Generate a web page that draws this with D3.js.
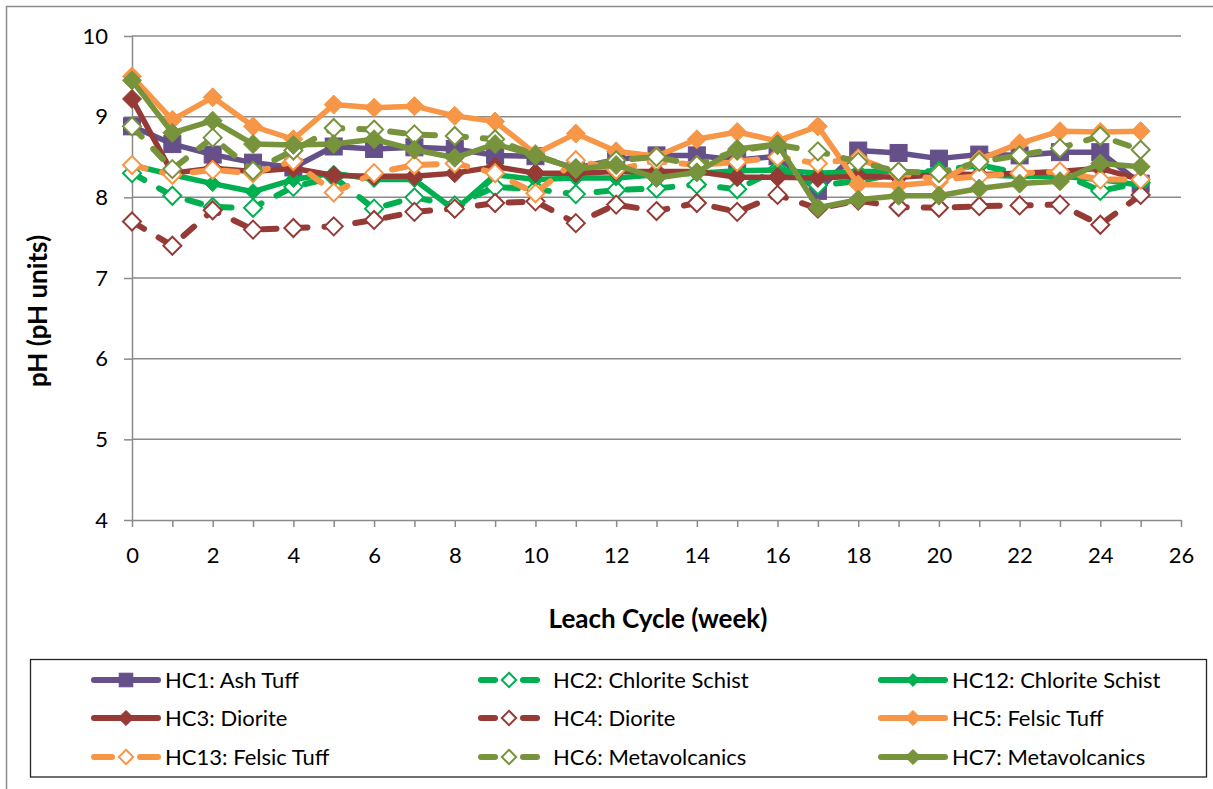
<!DOCTYPE html>
<html><head><meta charset="utf-8">
<script src="https://cdn.jsdelivr.net/npm/d3@7"></script>
<style>
body{margin:0;background:#fff}
svg{display:block;font-family:Lato,"Open Sans",sans-serif}
</style>
</head><body>
<svg id="c" width="1213" height="789"></svg>
<script>
// ---------- DATA ----------
const weeks = [0,1,2,3,4,5,6,7,8,9,10,11,12,13,14,15,16,17,18,19,20,21,22,23,24,25];
const hc1  = [8.88,8.66,8.53,8.43,8.37,8.63,8.60,8.62,8.60,8.52,8.51,8.36,8.47,8.52,8.52,8.46,8.51,8.08,8.58,8.55,8.48,8.53,8.52,8.56,8.56,8.17];
const hc2  = [8.30,8.02,7.88,7.87,8.13,8.25,7.86,8.00,7.90,8.13,8.10,8.04,8.09,8.11,8.16,8.10,8.35,8.15,8.20,8.30,8.33,8.40,8.30,8.30,8.08,8.18];
const hc12 = [8.40,8.28,8.17,8.07,8.22,8.30,8.22,8.22,7.84,8.28,8.22,8.24,8.24,8.28,8.30,8.33,8.34,8.30,8.32,8.32,8.30,8.28,8.26,8.26,8.22,8.15];
const hc3  = [9.22,8.30,8.36,8.32,8.36,8.27,8.26,8.26,8.30,8.38,8.30,8.30,8.32,8.32,8.32,8.25,8.25,8.24,8.26,8.25,8.28,8.28,8.30,8.32,8.36,8.22];
const hc4  = [7.70,7.40,7.84,7.60,7.62,7.64,7.72,7.82,7.86,7.93,7.95,7.68,7.91,7.83,7.93,7.82,8.03,7.86,7.96,7.88,7.87,7.89,7.90,7.91,7.66,8.03];
const hc5  = [9.50,8.96,9.24,8.88,8.72,9.15,9.11,9.13,9.01,8.94,8.54,8.79,8.57,8.51,8.72,8.81,8.70,8.88,8.16,8.15,8.19,8.47,8.67,8.82,8.81,8.82];
const hc13 = [8.40,8.28,8.34,8.30,8.45,8.06,8.30,8.40,8.42,8.30,8.05,8.46,8.34,8.45,8.40,8.44,8.50,8.42,8.48,8.30,8.22,8.26,8.30,8.32,8.22,8.22];
const hc6  = [8.88,8.35,8.74,8.33,8.58,8.86,8.84,8.78,8.76,8.72,8.52,8.36,8.46,8.50,8.40,8.58,8.65,8.57,8.44,8.32,8.30,8.44,8.52,8.61,8.76,8.59];
const hc7  = [9.45,8.80,8.95,8.66,8.65,8.66,8.72,8.59,8.49,8.66,8.52,8.35,8.40,8.24,8.31,8.60,8.66,7.87,7.97,8.02,8.02,8.11,8.17,8.20,8.42,8.38];

const seriesNames = ["HC1: Ash Tuff","HC2: Chlorite Schist","HC12: Chlorite Schist","HC3: Diorite","HC4: Diorite","HC5: Felsic Tuff","HC13: Felsic Tuff","HC6: Metavolcanics","HC7: Metavolcanics"];
const seriesValues = [hc1,hc2,hc12,hc3,hc4,hc5,hc13,hc6,hc7];
const xTickValues = [0,1,2,3,4,5,6,7,8,9,10,11,12,13,14,15,16,17,18,19,20,21,22,23,24,25,26];
const yTickValues = [4,5,6,7,8,9,10];
const xTitle = "Leach Cycle (week)";
const yTitle = "pH (pH units)";

// ---------- STYLES ----------
const PURPLE="#65508A", GREEN="#00B050", RED="#963A36", ORANGE="#F79646", OLIVE="#77933C";
const styles = [
  {color:PURPLE, dash:false, marker:"square"},
  {color:GREEN,  dash:true,  marker:"open"},
  {color:GREEN,  dash:false, marker:"diamond", r:8},
  {color:RED,    dash:false, marker:"diamond"},
  {color:RED,    dash:true,  marker:"open"},
  {color:ORANGE, dash:false, marker:"diamond"},
  {color:ORANGE, dash:true,  marker:"open"},
  {color:OLIVE,  dash:true,  marker:"open"},
  {color:OLIVE,  dash:false, marker:"diamond"}
];

const svg = d3.select("#c");
const W=1213, H=789;
const FONT=22, TITLE_FONT=26;

// outer chart border
svg.append("rect").attr("x",6.5).attr("y",6.5).attr("width",W+20).attr("height",H+20)
  .attr("fill","none").attr("stroke","#8c8c8c").attr("stroke-width",1.5);

const x = d3.scaleLinear().domain([0,26]).range([132,1181]);
const y = d3.scaleLinear().domain([4,10]).range([520,36]);

// gridlines
svg.append("g").selectAll("line").data(yTickValues.filter(v=>v>4)).join("line")
  .attr("x1",x(0)).attr("x2",x(26)).attr("y1",d=>y(d)).attr("y2",d=>y(d))
  .attr("stroke","#8a8a8a").attr("stroke-width",1.5);

// axes
const gx = svg.append("g").attr("transform",`translate(0,${y(4)})`)
  .call(d3.axisBottom(x).tickValues(xTickValues).tickFormat(d=>d%2===0?d:"").tickSize(7).tickSizeOuter(0).tickPadding(20));
const gy = svg.append("g").attr("transform",`translate(${x(0)},0)`)
  .call(d3.axisLeft(y).tickValues(yTickValues).tickFormat(d3.format("d")).tickSize(8).tickSizeOuter(0).tickPadding(16));
[gx,gy].forEach(g=>{
  g.select(".domain").attr("stroke","#8a8a8a").attr("stroke-width",1.5);
  g.selectAll(".tick line").attr("stroke","#8a8a8a").attr("stroke-width",1.5);
  g.selectAll("text").attr("fill","#000").style("font-size",FONT+"px").style("font-family","Lato, sans-serif");
});

// axis titles
svg.append("text").attr("x",658).attr("y",628).attr("text-anchor","middle")
  .style("font-size",TITLE_FONT+"px").style("font-weight","bold").text(xTitle);
svg.append("text").attr("transform","translate(47,311) rotate(-90)").attr("text-anchor","middle")
  .style("font-size",TITLE_FONT+"px").style("font-weight","bold").text(yTitle);

// markers
function diamondPath(r){return `M0,${-r}L${r},0L0,${r}L${-r},0Z`;}
function drawMarker(g, st, cx, cy, scale){
  const s = scale||1;
  if(st.marker==="square"){
    const a=17*s;
    g.append("rect").attr("x",cx-a/2).attr("y",cy-a/2).attr("width",a).attr("height",a)
      .attr("fill",st.color).attr("stroke",st.color).attr("stroke-width",1);
  } else if(st.marker==="diamond"){
    const r=(st.r||9.5)*s;
    g.append("path").attr("d",diamondPath(r)).attr("transform",`translate(${cx},${cy})`)
      .attr("fill",st.color).attr("stroke",st.color).attr("stroke-width",1);
  } else {
    const r=9*s;
    g.append("path").attr("d",diamondPath(r)).attr("transform",`translate(${cx},${cy})`)
      .attr("fill","#fff").attr("stroke",st.color).attr("stroke-width",2);
  }
}

const line = d3.line().x((d,i)=>x(weeks[i])).y(d=>y(d));
seriesValues.forEach((vals,k)=>{
  const st=styles[k];
  const g=svg.append("g");
  g.append("path").attr("d",line(vals)).attr("fill","none").attr("stroke",st.color)
    .attr("stroke-width",st.dash?6:5.5).attr("stroke-linejoin","round")
    .attr("stroke-linecap",st.dash?"round":"butt")
    .attr("stroke-dasharray",st.dash?"14,17":null);
  vals.forEach((v,i)=>drawMarker(g,st,x(weeks[i]),y(v)));
});

// legend
svg.append("rect").attr("x",30.5).attr("y",659.5).attr("width",1176).attr("height",117.5)
  .attr("fill","none").attr("stroke","#222").attr("stroke-width",1.3);
const legCols=[{x0:91,x1:161,tx:165},{x0:478,x1:540,tx:553},{x0:878,x1:948,tx:952}];
const legRows=[680,718,757];
seriesNames.forEach((name,k)=>{
  const st=styles[k];
  const c=legCols[k%3], ry=legRows[Math.floor(k/3)];
  const g=svg.append("g");
  const mx=(c.x0+c.x1)/2;
  if(st.dash){
    g.append("line").attr("x1",c.x0+3).attr("x2",mx-14).attr("y1",ry).attr("y2",ry)
      .attr("stroke",st.color).attr("stroke-width",6).attr("stroke-linecap","round");
    g.append("line").attr("x1",mx+14).attr("x2",c.x1-3).attr("y1",ry).attr("y2",ry)
      .attr("stroke",st.color).attr("stroke-width",6).attr("stroke-linecap","round");
  } else {
    g.append("line").attr("x1",c.x0+3).attr("x2",c.x1-3).attr("y1",ry).attr("y2",ry)
      .attr("stroke",st.color).attr("stroke-width",6).attr("stroke-linecap","round");
  }
  drawMarker(g,st,mx,ry,0.8);
  g.append("text").attr("x",c.tx).attr("y",ry).attr("dy","0.35em")
    .style("font-size",FONT+"px").text(name);
});
</script>
</body></html>
